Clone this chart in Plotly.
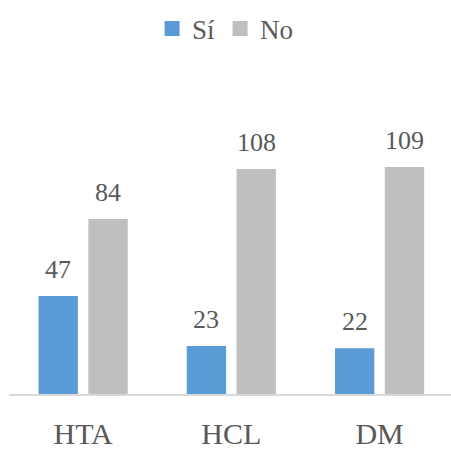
import plotly.graph_objects as go

categories = ["HTA", "HCL", "DM"]
si_values = [47, 23, 22]
no_values = [84, 108, 109]
series_names = ["Sí", "No"]
series_colors = ["#5b9bd5", "#bfbfbf"]

text_color = "#595959"
serif = "Liberation Serif"
bargap = 0.328
bargroupgap = 0.21

fig = go.Figure()

# Bars (legend entries are drawn with larger square markers below)
for name, vals, color in zip(series_names, [si_values, no_values], series_colors):
    fig.add_trace(go.Bar(
        x=categories, y=vals, name=name, marker_color=color,
        marker_line_width=0, showlegend=False, legendgroup=name,
    ))

# Legend swatches
for name, color in zip(series_names, series_colors):
    fig.add_trace(go.Scatter(
        x=[None], y=[None], mode="markers", name=name, legendgroup=name,
        marker=dict(symbol="square", size=15, color=color),
    ))

# Value labels above each bar
half_slot = (1 - bargap) / 4
for offset, vals in zip([-half_slot, half_slot], [si_values, no_values]):
    for i, v in enumerate(vals):
        fig.add_annotation(
            x=i + offset, y=v, text=str(v), showarrow=False,
            yanchor="bottom", yshift=10,
            font=dict(family=serif, size=26, color=text_color),
        )

fig.update_layout(
    width=451, height=450, autosize=False,
    margin=dict(l=9, r=0, t=143.5, b=51.5),
    paper_bgcolor="white", plot_bgcolor="white",
    barmode="group", bargap=bargap, bargroupgap=bargroupgap,
    showlegend=True,
    font=dict(family=serif, color=text_color),
    legend=dict(
        orientation="h", x=0.49, xanchor="center", y=0.99, yanchor="top",
        yref="container", font=dict(family=serif, size=27, color=text_color),
        itemwidth=30, traceorder="normal",
    ),
    xaxis=dict(
        range=[-0.5, 2.482], showline=True, linecolor="#d9d9d9", linewidth=1.5,
        ticks="", showgrid=False, zeroline=False,
        tickfont=dict(family=serif, size=30, color=text_color),
        ticklabelstandoff=12,
    ),
    yaxis=dict(range=[0, 120], visible=False, showgrid=False, zeroline=False),
)

fig.write_html("out.html")
